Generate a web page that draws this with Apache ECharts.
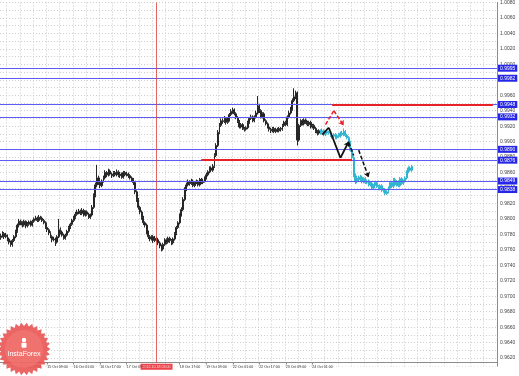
<!DOCTYPE html>
<html><head><meta charset="utf-8">
<script src="https://cdn.jsdelivr.net/npm/echarts@6/dist/echarts.min.js"></script>
<style>html,body{margin:0;padding:0;background:#fff}#c{width:519px;height:376px}</style>
</head><body><div id="c"></div>
<script>
// ---- data ----
const tickLabels = ['12 Oct 17:00','15 Oct 09:00','16 Oct 01:00','16 Oct 17:00','17 Oct 09:00','18 Oct 17:00','19 Oct 09:00','22 Oct 01:00','22 Oct 17:00','23 Oct 09:00','24 Oct 01:00'];
const slotCount = 300;
const firstBarTime = Date.UTC(2012, 9, 12, 5);
// [open, close, low, high] - history (black)
const candlesBefore = [
[.9776,.9778,.9773,.9781],[.9778,.9781,.9776,.9784],[.9781,.9777,.9774,.9783],[.9777,.9779,.9775,.9782],[.9779,.9774,.9771,.9780],
[.9774,.9770,.9767,.9776],[.9770,.9767,.9764,.9772],[.9767,.9772,.9764,.9774],[.9772,.9777,.9770,.9779],[.9777,.9784,.9775,.9786],
[.9784,.9792,.9782,.9794],[.9792,.9797,.9789,.9800],[.9797,.9795,.9792,.9799],[.9795,.9792,.9789,.9797],[.9792,.9797,.9790,.9799],
[.9797,.9791,.9788,.9798],[.9791,.9793,.9789,.9796],[.9793,.9796,.9791,.9798],[.9796,.9792,.9790,.9798],[.9792,.9797,.9790,.9799],
[.9797,.9800,.9795,.9802],[.9800,.9801,.9798,.9804],[.9801,.9798,.9796,.9803],[.9798,.9802,.9796,.9805],[.9802,.9801,.9799,.9804],
[.9801,.9798,.9796,.9803],[.9798,.9795,.9793,.9800],[.9795,.9789,.9787,.9797],[.9789,.9786,.9783,.9791],[.9786,.9782,.9779,.9788],
[.9782,.9777,.9775,.9784],[.9777,.9773,.9770,.9779],[.9773,.9774,.9771,.9777],[.9774,.9770,.9765,.9776],[.9770,.9777,.9768,.9779],
[.9777,.9786,.9775,.9800],[.9786,.9783,.9780,.9789],[.9783,.9779,.9777,.9785],[.9779,.9775,.9773,.9781],[.9775,.9779,.9773,.9781],
[.9779,.9784,.9777,.9786],[.9784,.9789,.9782,.9791],[.9789,.9793,.9787,.9795],[.9793,.9798,.9791,.9800],[.9798,.9802,.9796,.9804],
[.9802,.9806,.9800,.9809],[.9806,.9809,.9804,.9812],[.9809,.9810,.9806,.9813],[.9810,.9807,.9805,.9812],[.9807,.9811,.9805,.9814],
[.9811,.9805,.9803,.9813],[.9805,.9809,.9803,.9811],[.9809,.9806,.9804,.9811],[.9806,.9802,.9800,.9808],[.9802,.9805,.9800,.9807],
[.9805,.9815,.9803,.9818],[.9815,.9830,.9813,.9833],[.9830,.9844,.9828,.9847],[.9844,.9853,.9841,.9870],[.9853,.9847,.9844,.9856],
[.9847,.9843,.9840,.9849],[.9843,.9849,.9841,.9851],[.9849,.9853,.9847,.9856],[.9853,.9860,.9851,.9863],[.9860,.9857,.9854,.9862],
[.9857,.9862,.9855,.9865],[.9862,.9858,.9856,.9864],[.9858,.9856,.9853,.9860],[.9856,.9860,.9854,.9862],[.9860,.9857,.9855,.9862],
[.9857,.9861,.9855,.9864],[.9861,.9856,.9854,.9863],[.9856,.9858,.9853,.9861],[.9858,.9854,.9852,.9860],[.9854,.9860,.9852,.9862],
[.9860,.9857,.9855,.9862],[.9857,.9858,.9855,.9861],[.9858,.9856,.9853,.9860],[.9856,.9853,.9851,.9858],[.9853,.9851,.9848,.9855],
[.9851,.9847,.9844,.9853],[.9847,.9835,.9832,.9849],[.9835,.9825,.9822,.9837],[.9825,.9815,.9812,.9827],[.9815,.9809,.9806,.9817],
[.9809,.9802,.9799,.9811],[.9802,.9795,.9792,.9804],[.9795,.9792,.9789,.9797],[.9792,.9783,.9780,.9794],[.9783,.9777,.9774,.9785],
[.9777,.9774,.9771,.9779],[.9774,.9777,.9772,.9779],[.9777,.9772,.9769,.9779],[.9772,.9775,.9770,.9778],[.9775,.9773,.9770,.9777],
[.9773,.9769,.9766,.9775],[.9769,.9765,.9762,.9771],[.9765,.9761,.9758,.9767],[.9761,.9767,.9759,.9769],[.9767,.9773,.9765,.9775],
[.9773,.9770,.9767,.9775],[.9770,.9775,.9768,.9777],[.9775,.9772,.9769,.9777],[.9772,.9769,.9766,.9774],[.9769,.9774,.9767,.9776],
[.9774,.9781,.9772,.9783],[.9781,.9789,.9779,.9791],[.9789,.9795,.9787,.9797],[.9795,.9805,.9793,.9807],[.9805,.9812,.9803,.9815],
[.9812,.9825,.9810,.9828],[.9825,.9838,.9823,.9841],[.9838,.9844,.9836,.9847],[.9844,.9848,.9842,.9851],[.9848,.9846,.9843,.9850],
[.9846,.9849,.9844,.9852],[.9849,.9843,.9841,.9851],[.9843,.9847,.9841,.9849],[.9847,.9848,.9845,.9851],[.9848,.9844,.9842,.9850],
[.9844,.9851,.9842,.9853],[.9851,.9847,.9845,.9853],[.9847,.9849,.9845,.9852],[.9849,.9853,.9847,.9855],[.9853,.9857,.9851,.9860],
[.9857,.9861,.9855,.9863],[.9861,.9866,.9859,.9868],[.9866,.9863,.9861,.9868],[.9863,.9868,.9861,.9871],[.9868,.9882,.9866,.9885],
[.9882,.9895,.9880,.9898],[.9895,.9912,.9893,.9915],[.9912,.9921,.9910,.9924],[.9921,.9927,.9919,.9930],[.9927,.9926,.9923,.9930],
[.9926,.9930,.9924,.9933],[.9930,.9925,.9922,.9932],[.9925,.9928,.9923,.9931],[.9928,.9935,.9926,.9937],[.9935,.9939,.9933,.9942],
[.9939,.9941,.9936,.9944],[.9941,.9936,.9934,.9943],[.9936,.9931,.9929,.9938],[.9931,.9926,.9924,.9933],[.9926,.9919,.9917,.9928],
[.9919,.9922,.9917,.9924],[.9922,.9917,.9915,.9924],[.9917,.9916,.9913,.9919],[.9916,.9918,.9914,.9920],[.9918,.9925,.9916,.9927],
[.9925,.9930,.9923,.9932],[.9930,.9932,.9928,.9935],[.9932,.9927,.9925,.9934],[.9927,.9932,.9925,.9934],[.9932,.9937,.9930,.9940],
[.9937,.9946,.9935,.9959],[.9946,.9940,.9937,.9949],[.9940,.9932,.9930,.9942],[.9932,.9936,.9930,.9938],[.9936,.9927,.9925,.9938],
[.9927,.9923,.9921,.9929],[.9923,.9919,.9917,.9925],[.9919,.9916,.9913,.9921],[.9916,.9914,.9911,.9918],[.9914,.9917,.9912,.9919],
[.9917,.9913,.9911,.9919],[.9913,.9916,.9911,.9918],[.9916,.9914,.9912,.9918],[.9914,.9917,.9912,.9919],[.9917,.9916,.9913,.9919],
[.9916,.9921,.9914,.9923],[.9921,.9925,.9919,.9927],[.9925,.9922,.9920,.9927],[.9922,.9932,.9920,.9934],[.9932,.9937,.9930,.9940],
[.9937,.9942,.9935,.9945],[.9942,.9953,.9940,.9956],[.9953,.9958,.9951,.9969],[.9958,.9963,.9955,.9966],[.9963,.9902,.9895,.9965],
[.9902,.9921,.9900,.9923],[.9921,.9927,.9919,.9929],[.9927,.9923,.9921,.9929],[.9923,.9928,.9921,.9930],[.9928,.9925,.9923,.9930],
[.9925,.9922,.9920,.9927],[.9922,.9925,.9920,.9927],[.9925,.9919,.9917,.9927],[.9919,.9921,.9917,.9923],[.9921,.9917,.9915,.9923],
[.9917,.9913,.9911,.9919],[.9913,.9911,.9908,.9915],[.9911,.9914,.9909,.9916]
];
// [open, close, low, high] - later movement (teal)
const candlesAfter = [
[.9914,.9912,.9909,.9916],[.9912,.9914,.9910,.9917],[.9914,.9909,.9907,.9916],[.9909,.9913,.9907,.9915],[.9913,.9911,.9909,.9915],
[.9911,.9912,.9909,.9914],[.9912,.9908,.9906,.9914],[.9908,.9907,.9904,.9910],[.9907,.9909,.9905,.9911],[.9909,.9905,.9903,.9911],
[.9905,.9908,.9903,.9910],[.9908,.9907,.9905,.9911],[.9907,.9911,.9905,.9913],[.9911,.9909,.9907,.9914],[.9909,.9913,.9907,.9917],
[.9913,.9908,.9906,.9915],[.9908,.9905,.9903,.9910],[.9905,.9899,.9897,.9907],[.9899,.9889,.9887,.9901],[.9889,.9879,.9876,.9891],
[.9879,.9857,.9854,.9881],[.9857,.9848,.9845,.9859],[.9848,.9853,.9846,.9856],[.9853,.9851,.9848,.9856],[.9851,.9854,.9849,.9857],
[.9854,.9848,.9846,.9856],[.9848,.9852,.9846,.9854],[.9852,.9847,.9845,.9854],[.9847,.9849,.9845,.9851],[.9849,.9844,.9842,.9851],
[.9844,.9846,.9842,.9848],[.9846,.9840,.9838,.9848],[.9840,.9843,.9838,.9845],[.9843,.9847,.9841,.9849],[.9847,.9842,.9840,.9849],
[.9842,.9839,.9837,.9844],[.9839,.9843,.9837,.9845],[.9843,.9837,.9835,.9845],[.9837,.9838,.9834,.9840],[.9838,.9833,.9831,.9840],
[.9833,.9835,.9831,.9837],[.9835,.9840,.9833,.9842],[.9840,.9847,.9838,.9849],[.9847,.9842,.9840,.9849],[.9842,.9851,.9840,.9853],
[.9851,.9844,.9842,.9853],[.9844,.9848,.9842,.9850],[.9848,.9843,.9841,.9850],[.9843,.9852,.9841,.9854],[.9852,.9846,.9844,.9854],
[.9846,.9849,.9844,.9851],[.9849,.9853,.9847,.9855],[.9853,.9861,.9851,.9863],[.9861,.9866,.9859,.9868],[.9866,.9863,.9861,.9868],
[.9863,.9868,.9861,.9870]
];
const blueLevels = [0.9995, 0.9982, 0.9948, 0.9932, 0.9890, 0.9876, 0.9849, 0.9838];
const currentPrice = 0.9912;
// [fromIndex, toIndex, price]
const redSegments = [[121, 212, 0.9876], [200, 297, 0.9948]];
const crosshairIndex = 94;
const crosshairLabel = '2012.10.18 03:00';
const frameBottomPrice = 0.9614;
// [barIndex, price]
const redArrow = [[196, 0.9922], [201, 0.9940], [207, 0.9921]];
const blackArrow = [[194, 0.9909], [198, 0.9918], [205, 0.9879], [210, 0.9900]];
const blackDash1 = [[210, 0.9899], [213, 0.9882]];
const blackDash2 = [[216, 0.9889], [222, 0.9854]];

// ---- build ----
const months = ['Jan','Feb','Mar','Apr','May','Jun','Jul','Aug','Sep','Oct','Nov','Dec'];
const pad = n => (n < 10 ? '0' : '') + n;
const categories = [];
for (let t = firstBarTime; categories.length < slotCount; t += 3600000) {
  const d = new Date(t), wd = d.getUTCDay();
  if (wd === 0 || wd === 6) continue;
  categories.push(d.getUTCDate() + ' ' + months[d.getUTCMonth()] + ' ' + pad(d.getUTCHours()) + ':00');
}
const blackData = candlesBefore.slice();
const tealData = candlesBefore.map(() => '-').concat(candlesAfter);

function pathSegments(path, style, arrowEnd) {
  const segs = [];
  for (let k = 0; k < path.length - 1; k++) {
    const last = k === path.length - 2;
    segs.push([
      { coord: path[k], symbol: 'none', lineStyle: style },
      { coord: path[k + 1], symbol: (last && arrowEnd) ? 'arrow' : 'none', symbolSize: 5 }
    ]);
  }
  return segs;
}

const FONT = 'Liberation Sans, Arial, sans-serif';
const labelInterval = (idx, val) => tickLabels.indexOf(val) >= 0;

const levelLines = blueLevels.map(v => ({
  yAxis: v,
  lineStyle: { color: '#5c5cf2', width: 1, type: 'solid' },
  label: { show: true, position: 'end', distance: 1, formatter: p => Number(p.value).toFixed(4),
           backgroundColor: '#2626e6', color: '#fff', fontSize: 5, padding: [1, 2, 1, 2], fontFamily: FONT }
}));
levelLines.push({
  yAxis: currentPrice,
  lineStyle: { opacity: 0, width: 0 },
  label: { show: true, position: 'end', distance: 1, formatter: p => Number(p.value).toFixed(4),
           backgroundColor: '#111', color: '#fff', fontSize: 5, padding: [1, 2, 1, 2], fontFamily: FONT }
});
const redLines = redSegments.map(s => [
  { coord: [s[0], s[2]], lineStyle: { color: '#e8202a', width: 2, type: 'solid' } },
  { coord: [s[1], s[2]] }
]);

const annotations = []
  .concat(pathSegments(redArrow, { color: '#e8202a', width: 1.5, type: [4, 2] }, true))
  .concat(pathSegments(blackArrow, { color: '#111', width: 1.8, type: 'solid' }, true))
  .concat(pathSegments(blackDash1, { color: '#111', width: 1.5, type: [4, 2] }, false))
  .concat(pathSegments(blackDash2, { color: '#111', width: 1.5, type: [4, 2] }, true));
annotations.push([
  { coord: [crosshairIndex, frameBottomPrice], symbol: 'none',
    lineStyle: { color: '#e04040', width: 1, type: 'solid', opacity: 0.8 },
    label: { show: true, position: 'start', distance: 1, formatter: crosshairLabel, backgroundColor: '#e8141e',
             color: '#fff', fontSize: 3.6, padding: [1, 2, 1, 2], fontFamily: FONT } },
  { coord: [crosshairIndex, 1.008], symbol: 'none' }
]);

// logo shape (decoration)
const cx = 24, cy = 349, teeth = [], n = 30;
for (let k = 0; k < 2 * n; k++) {
  const r = k % 2 ? 23 : 26.5, a = Math.PI * k / n;
  teeth.push([cx + r * Math.cos(a), cy + r * Math.sin(a)]);
}

const chart = echarts.init(document.getElementById('c'), null, { renderer: 'canvas' });
chart.setOption({
  animation: false,
  backgroundColor: '#ffffff',
  textStyle: { fontFamily: FONT },
  grid: { left: 0, right: 22, top: 0, bottom: -1, containLabel: false },
  xAxis: [
    { type: 'category', data: categories, boundaryGap: true, position: 'bottom', z: 0,
      axisLine: { show: false }, axisTick: { show: false }, axisLabel: { show: false },
      splitLine: { show: true, interval: (i) => i % 8 === 4, lineStyle: { color: '#c8c8c8', width: 1, type: [1, 2] } } },
    { type: 'category', data: categories, boundaryGap: true, position: 'bottom', offset: -11, z: 3,
      axisLine: { show: true, lineStyle: { color: '#8c8c8c', width: 1 } },
      axisTick: { show: true, alignWithLabel: true, length: 2, interval: labelInterval, lineStyle: { color: '#8c8c8c' } },
      axisLabel: { show: true, interval: labelInterval, align: 'left', margin: 2, fontSize: 3.6, color: '#333', fontFamily: FONT },
      splitLine: { show: false } }
  ],
  yAxis: {
    type: 'value', position: 'right', min: 0.960, max: 1.008, interval: 0.001, z: 0,
    axisLine: { show: true, lineStyle: { color: '#8c8c8c', width: 1 } },
    axisTick: { show: false },
    axisLabel: { margin: 3, fontSize: 5, color: '#444', fontFamily: FONT,
      formatter: v => (Math.round(v * 1000) % 2 === 0 ? v.toFixed(4) : '') },
    splitLine: { show: true, lineStyle: { color: '#cfcfcf', width: 1, type: [1, 2] } }
  },
  graphic: { elements: [
    { type: 'rect', z: 1, silent: true, shape: { x: 0, y: 366.5, width: 519, height: 12 }, style: { fill: '#ffffff' } },
    { type: 'polygon', z: 10, silent: true, shape: { points: teeth }, style: { fill: 'rgba(233,80,80,0.88)' } },
    { type: 'circle', z: 10, silent: true, shape: { cx: cx, cy: cy, r: 19 }, style: { fill: 'rgba(244,125,120,0.55)' } },
    { type: 'circle', z: 11, silent: true, shape: { cx: cx, cy: cy - 9, r: 2.2 }, style: { fill: '#fff' } },
    { type: 'rect', z: 11, silent: true, shape: { x: cx - 2.5, y: cy - 6.3, width: 5, height: 5, r: 1 }, style: { fill: '#fff' } },
    { type: 'text', z: 11, silent: true, style: { text: 'InstaForex', x: cx, y: cy + 5, textAlign: 'center', textVerticalAlign: 'middle', fill: '#fff', font: '7px ' + FONT } }
  ] },
  series: [
    { name: 'levels', type: 'line', data: [], z: 1, silent: true,
      markLine: { silent: true, precision: 4, symbol: ['none', 'none'], animation: false, data: levelLines.concat(redLines) } },
    { name: 'history', type: 'candlestick', data: blackData, z: 2, barWidth: 1.4,
      itemStyle: { color: '#262626', color0: '#262626', borderColor: '#262626', borderColor0: '#262626', borderWidth: 1 } },
    { name: 'after', type: 'candlestick', data: tealData, z: 2, barWidth: 1.4,
      itemStyle: { color: '#30b4cf', color0: '#30b4cf', borderColor: '#30b4cf', borderColor0: '#30b4cf', borderWidth: 1 } },
    { name: 'annotations', type: 'line', data: [], z: 5, silent: true,
      markLine: { silent: true, precision: 4, symbol: ['none', 'none'], animation: false, label: { show: false }, data: annotations } }
  ]
});
</script>
</body></html>
